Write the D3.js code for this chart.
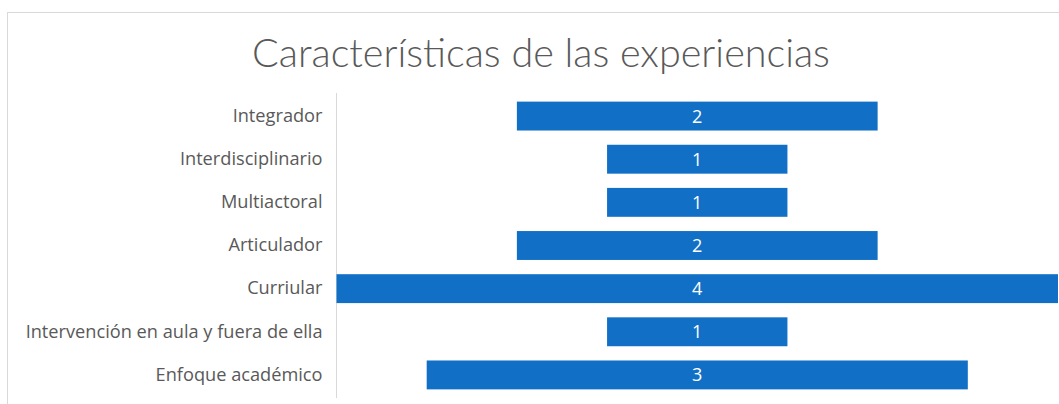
<!DOCTYPE html>
<html><head><meta charset="utf-8">
<script src="https://cdn.jsdelivr.net/npm/d3@7"></script>
<style>body{margin:0;background:#fff;}svg{display:block;}</style>
</head><body>
<svg id="c" width="1059" height="404"></svg>
<script>
const categories = ["Integrador","Interdisciplinario","Multiactoral","Articulador","Curriular","Intervención en aula y fuera de ella","Enfoque académico"];
const values = [2,1,1,2,4,1,3];
const title = "Características de las experiencias";

const svg = d3.select("#c");
svg.append("rect").attr("x",7.5).attr("y",12.5).attr("width",1060).attr("height",420)
  .attr("fill","#fff").attr("stroke","#d9d9d9");

const axisX = 336.5, plotRight = 1058, center = (axisX+plotRight)/2;
const half = (plotRight-axisX)/2;
const x = d3.scaleLinear().domain([0, d3.max(values)/2]).range([0, half]);
const y = d3.scaleBand().domain(categories).range([94.5, 396.5]).paddingInner(0.33).paddingOuter(0.165);

const t = svg.append("text").attr("x",541).attr("y",67).attr("text-anchor","middle")
  .attr("font-family","Lato").attr("font-weight",300).attr("font-size",36).attr("fill","#595959").text(title);
const tw = t.node().getComputedTextLength();
t.attr("font-size", 36*578/tw);

svg.append("line").attr("x1",axisX).attr("x2",axisX).attr("y1",93).attr("y2",398).attr("stroke","#d9d9d9");

const g = svg.append("g");
g.selectAll("rect.bar").data(values).join("rect").attr("class","bar")
  .attr("x",(d)=>center - x(d/2)).attr("width",d=>2*x(d/2))
  .attr("y",(d,i)=>y(categories[i])).attr("height",y.bandwidth()).attr("fill","#1170c6");
g.selectAll("text.val").data(values).join("text").attr("class","val")
  .attr("x",center).attr("y",(d,i)=>y(categories[i])+y.bandwidth()/2).attr("dy","0.36em")
  .attr("text-anchor","middle").attr("font-family","Open Sans").attr("font-size",18).attr("fill","#fff").text(d=>d);

const axis = d3.axisLeft(y).tickSize(0).tickPadding(14);
const ag = svg.append("g").attr("transform",`translate(${axisX},0)`).call(axis);
ag.select(".domain").remove();
ag.selectAll("text").attr("font-family","Open Sans").attr("font-size",18.2).attr("fill","#595959");
</script>
</body></html>
